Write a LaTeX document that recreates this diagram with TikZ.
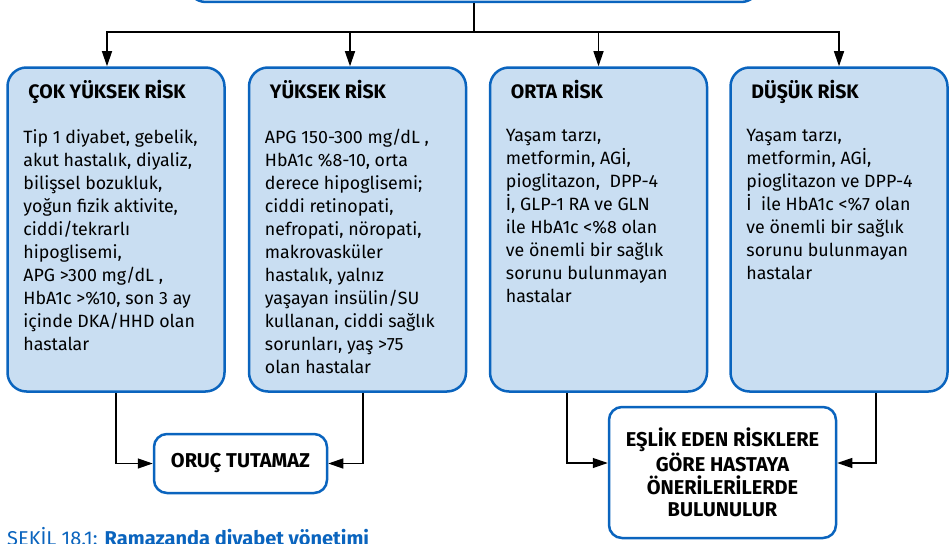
\documentclass[tikz,border=0pt]{standalone}
\usepackage{fontspec}
\setmainfont{Fira Sans}
\usepackage{xcolor}
\usetikzlibrary{arrows.meta,positioning,calc}
\definecolor{riskfill}{RGB}{201,222,242}
\definecolor{riskline}{RGB}{10,100,190}

\begin{document}
\begin{tikzpicture}[x=1pt, y=-1pt, >={Triangle[length=15pt,width=10pt]},
  riskbox/.style={draw=riskline, line width=2.5pt, fill=riskfill, rounded corners=19pt,
    minimum width=217pt, minimum height=324pt, inner sep=0pt},
  endbox/.style={draw=riskline, line width=2.5pt, fill=white, rounded corners=13pt,
    inner sep=0pt, align=center, font=\fontsize{20}{22.5}\selectfont\bfseries},
  risktitle/.style={anchor=base west, inner sep=0pt, font=\fontsize{19.5}{22}\selectfont\bfseries},
  risktext/.style={anchor=north west, inner sep=0pt, align=left, font=\fontsize{17.8}{23}\selectfont},
  conn/.style={line width=1.3pt}]
\useasboundingbox (0,0) rectangle (952,543);

% Top box (cut off by the page)
\node [draw=riskline, line width=2.5pt, fill=white, rounded corners=19pt,
  minimum width=573pt, minimum height=60pt] (top) at (473.5,-28) {};

% Risk boxes with their titles
\foreach \n/\cx/\ttl in {cokyuksek/116/ÇOK YÜKSEK RİSK, yuksek/357.5/YÜKSEK RİSK,
    orta/598.5/ORTA RİSK, dusuk/839/DÜŞÜK RİSK} {
  \node [riskbox] (\n) at (\cx, 229.5) {};
  \node [risktitle] (\n-t) at ([xshift=22pt, yshift=-32pt]\n.north west) {\ttl};
}

% Box texts
\node [risktext] (cokyuksek-b) at ([xshift=17pt, yshift=-63pt]cokyuksek.north west)
  {Tip 1 diyabet, gebelik,\\ akut hastalık, diyaliz,\\ bilişsel bozukluk,\\ yoğun fizik aktivite,\\
   ciddi/tekrarlı\\ hipoglisemi,\\ APG >300 mg/dL ,\\ HbA1c >\%10, son 3 ay\\ içinde DKA/HHD olan\\ hastalar};
\node [risktext] (yuksek-b) at ([xshift=17pt, yshift=-63pt]yuksek.north west)
  {APG 150-300 mg/dL ,\\ HbA1c \%8-10, orta\\ derece hipoglisemi;\\ ciddi retinopati,\\
   nefropati, nöropati,\\ makrovasküler\\ hastalık, yalnız\\ yaşayan insülin/SU\\
   kullanan, ciddi sağlık\\ sorunları, yaş >75\\ olan hastalar};
\node [risktext] (orta-b) at ([xshift=17pt, yshift=-63pt]orta.north west)
  {Yaşam tarzı,\\ metformin, AGİ,\\ pioglitazon,\ \ DPP-4\\ İ, GLP-1 RA ve GLN\\
   ile HbA1c <\%8 olan\\ ve önemli bir sağlık\\ sorunu bulunmayan\\ hastalar};
\node [risktext] (dusuk-b) at ([xshift=17pt, yshift=-63pt]dusuk.north west)
  {Yaşam tarzı,\\ metformin, AGİ,\\ pioglitazon ve DPP-4\\ İ\ \ ile HbA1c <\%7 olan\\
   ve önemli bir sağlık\\ sorunu bulunmayan\\ hastalar};

% Result boxes
\node [endbox, minimum width=173pt, minimum height=59pt] (oruc) at (240.5,463.5) {ORUÇ TUTAMAZ};
\node [endbox, minimum width=227pt, minimum height=131pt] (eslik) at (722.5,472.5)
  {EŞLİK EDEN RİSKLERE\\ GÖRE HASTAYA\\ ÖNERİLERİLERDE\\ BULUNULUR};

% Connections
\coordinate (split) at (474,32);
\draw [conn] (top.south -| split) -- (split);
\draw [conn, ->] (split) -| ([xshift=-9pt]cokyuksek.north);
\draw [conn, ->] (split) -| ([xshift=-7.5pt]yuksek.north);
\draw [conn, ->] (split) -| (orta.north);
\draw [conn, ->] (split) -| (dusuk.north);

\draw [conn, ->] (cokyuksek.south) |- (oruc.west);
\draw [conn, ->] ([xshift=5.5pt]yuksek.south) |- (oruc.east);
\draw [conn, ->] ([xshift=-31.5pt]orta.south) |- ([yshift=9.5pt]eslik.west);
\draw [conn, ->] ([xshift=37pt]dusuk.south) |- ([yshift=9.5pt]eslik.east);

% Caption
\node [anchor=base west, inner sep=0pt, text=riskline, font=\fontsize{20}{24}\selectfont]
  (caption) at (7,545) {ŞEKİL 18.1: \textbf{Ramazanda diyabet yönetimi}};
\end{tikzpicture}
\end{document}
